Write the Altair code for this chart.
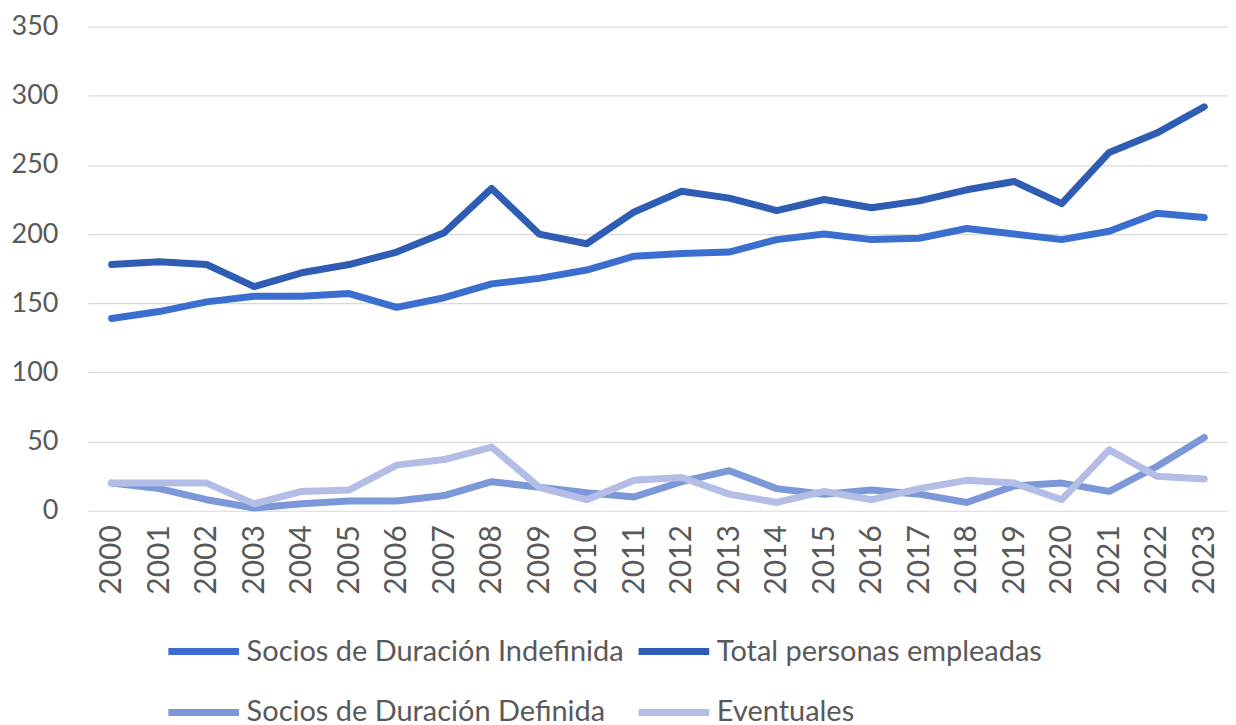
import altair as alt
import pandas as pd

years = list(range(2000, 2024))
total = [178, 180, 178, 162, 172, 178, 187, 201, 233, 200, 193, 216, 231, 226, 217, 225, 219, 224, 232, 238, 222, 259, 273, 292]
indefinida = [139, 144, 151, 155, 155, 157, 147, 154, 164, 168, 174, 184, 186, 187, 196, 200, 196, 197, 204, 200, 196, 202, 215, 212]
definida = [20, 16, 8, 2, 5, 7, 7, 11, 21, 17, 13, 10, 21, 29, 16, 12, 15, 12, 6, 18, 20, 14, 32, 53]
eventuales = [20, 20, 20, 5, 14, 15, 33, 37, 46, 17, 8, 22, 24, 12, 6, 14, 8, 16, 22, 20, 8, 44, 25, 23]

# legend fills column by column: column 1 = Indefinida, Definida; column 2 = Total, Eventuales
series_names = ["Socios de Duración Indefinida", "Socios de Duración Definida",
                "Total personas empleadas", "Eventuales"]
series_values = [indefinida, definida, total, eventuales]
colors = ["#3A6FCF", "#7D98D8", "#2F5DB3", "#B3BDE6"]
draw_order = [1, 3, 2, 0]

rows = []
for i, (name, vals) in enumerate(zip(series_names, series_values)):
    for y, v in zip(years, vals):
        rows.append({"Año": str(y), "Valor": v, "Serie": name, "orden": draw_order[i]})
df = pd.DataFrame(rows)

font = "Lato"
grey = "#595959"

chart = alt.Chart(df).mark_line(strokeWidth=7, strokeJoin="round", strokeCap="round").encode(
    x=alt.X("Año:O", title=None,
            scale=alt.Scale(type="point", padding=0.5),
            axis=alt.Axis(labelAngle=270, labelFontSize=30, labelColor=grey, labelFont=font,
                          ticks=False, domain=False, grid=False, labelPadding=14)),
    y=alt.Y("Valor:Q", title=None,
            scale=alt.Scale(domain=[0, 350], nice=False),
            axis=alt.Axis(values=[0, 50, 100, 150, 200, 250, 300, 350], labelFontSize=27,
                          labelColor=grey, labelFont=font, ticks=False, domain=False,
                          grid=True, gridColor="#D9D9D9", gridWidth=1.2,
                          labelPadding=30, minExtent=80)),
    color=alt.Color("Serie:N",
                    scale=alt.Scale(domain=series_names, range=colors),
                    legend=alt.Legend(title=None, orient="none", legendX=77, legendY=587,
                                      columns=2, symbolType="stroke", symbolSize=5000,
                                      symbolStrokeWidth=7, labelFontSize=29, labelFont=font,
                                      labelColor=grey, labelLimit=700, rowPadding=7,
                                      columnPadding=0, labelOffset=4, padding=0)),
    order=alt.Order("orden:Q"),
).properties(
    width=1142, height=485,
    padding={"left": 0, "top": 4, "right": 0, "bottom": 4},
).configure_view(stroke=None)

chart.save("out.html", embed_options={"renderer": "svg", "actions": False})
